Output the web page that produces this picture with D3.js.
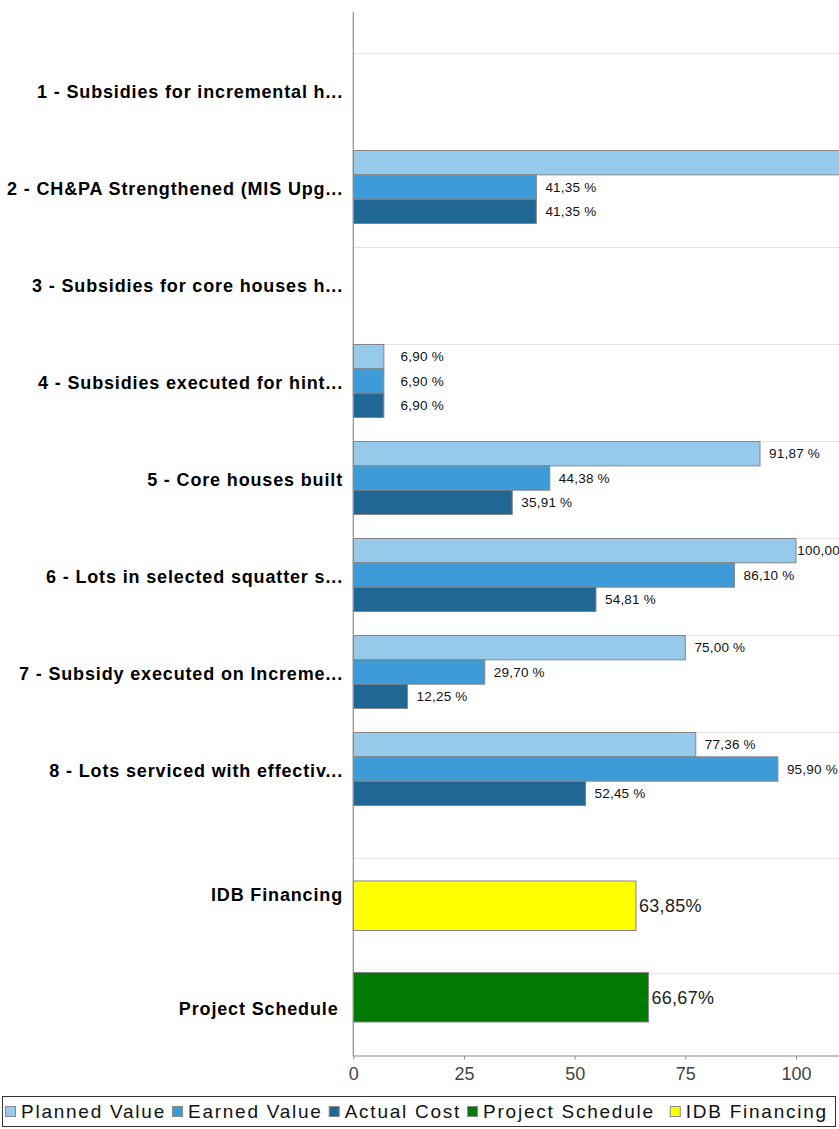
<!DOCTYPE html>
<html>
<head>
<meta charset="utf-8">
<script src="https://cdn.jsdelivr.net/npm/d3@7/dist/d3.min.js"></script>
<style>
  html, body { margin: 0; padding: 0; background: #fff; overflow: hidden; }
  svg { display: block; }
</style>
</head>
<body>
<svg id="chart" width="839" height="1129"></svg>
<script>
// ---------- DATA ----------
const categories = [
  "1 - Subsidies for incremental h...",
  "2 - CH&PA Strengthened (MIS Upg...",
  "3 - Subsidies for core houses h...",
  "4 - Subsidies executed for hint...",
  "5 - Core houses built",
  "6 - Lots in selected squatter s...",
  "7 - Subsidy executed on Increme...",
  "8 - Lots serviced with effectiv..."
];
const seriesNames = ["Planned Value", "Earned Value", "Actual Cost"];
const plannedValue = [null, 120.00, null, 6.90, 91.87, 100.00, 75.00, 77.36];
const earnedValue  = [null, 41.35, null, 6.90, 44.38, 86.10, 29.70, 95.90];
const actualCost   = [null, 41.35, null, 6.90, 35.91, 54.81, 12.25, 52.45];

const summaryCategories = ["IDB Financing", "Project Schedule"];
const idbFinancing    = [63.85, null];
const projectSchedule = [null, 66.67];

const xTickValues = [0, 25, 50, 75, 100];

const legendItems = ["Planned Value", "Earned Value", "Actual Cost", "Project Schedule", "IDB Financing"];

// ---------- STYLE ----------
const colors = {
  "Planned Value": "#95caea",
  "Earned Value": "#3d9bd7",
  "Actual Cost": "#216796",
  "Project Schedule": "#007a00",
  "IDB Financing": "#ffff00"
};
const barStroke = "#858585";
const gridColor = "#e3e3e3";
const axisColor = "#8c8c8c";

const svg = d3.select("#chart");
const fmt = v => v.toFixed(2).replace(".", ",");

// ---------- SCALES ----------
const x = d3.scaleLinear().domain([0, 100]).range([353.3, 796]);

const yTop = d3.scaleBand().domain(categories).range([53, 829]).paddingInner(0).paddingOuter(0);
const ySeries = d3.scaleBand().domain(seriesNames).range([0.5, 73.5]);

const yBot = d3.scaleBand().domain(summaryCategories).range([858, 1087]);
const yBotBar = d3.scaleBand().domain(summaryCategories).range([881, 1022]).paddingInner(0.459).paddingOuter(0);

const axisTop = 12, axisBottom = 1056;

// ---------- GRIDLINES ----------
const grid = svg.append("g");
grid.selectAll("line.gt").data(categories).join("line")
  .attr("x1", x(0)).attr("x2", 839)
  .attr("y1", d => Math.round(yTop(d)) + 0.5).attr("y2", d => Math.round(yTop(d)) + 0.5)
  .attr("stroke", gridColor).attr("stroke-width", 1);
grid.selectAll("line.gb").data(summaryCategories).join("line")
  .attr("x1", x(0)).attr("x2", 839)
  .attr("y1", d => Math.round(yBot(d)) + 0.5).attr("y2", d => Math.round(yBot(d)) + 0.5)
  .attr("stroke", gridColor).attr("stroke-width", 1);

// ---------- TOP BARS ----------
const topRows = [];
seriesNames.forEach((s, si) => {
  const arr = [plannedValue, earnedValue, actualCost][si];
  categories.forEach((c, ci) => {
    if (arr[ci] !== null) topRows.push({ cat: c, series: s, value: arr[ci] });
  });
});

const barsTop = svg.append("g");
barsTop.selectAll("rect").data(topRows).join("rect")
  .attr("x", x(0))
  .attr("y", d => yTop(d.cat) + ySeries(d.series))
  .attr("width", d => x(d.value) - x(0))
  .attr("height", ySeries.bandwidth())
  .attr("fill", d => colors[d.series])
  .attr("stroke", barStroke).attr("stroke-width", 1);

// labels only for values whose label lies inside the visible area (as in the cropped reference)
barsTop.selectAll("text").data(topRows.filter(d => x(d.value) + 8 < 839)).join("text")
  .attr("x", d => x(d.value) + 60)
  .attr("y", d => yTop(d.cat) + ySeries(d.series) + ySeries.bandwidth() / 2 + 13.5 * 0.358)
  .attr("text-anchor", "end")
  .attr("font-family", "Liberation Sans, Arial, sans-serif")
  .attr("font-size", 13.5)
  .attr("letter-spacing", 0.2)
  .attr("fill", "#111")
  .text(d => fmt(d.value) + " %");

// ---------- BOTTOM BARS ----------
const botRows = [];
summaryCategories.forEach((c, ci) => {
  if (idbFinancing[ci] !== null) botRows.push({ cat: c, series: "IDB Financing", value: idbFinancing[ci] });
  if (projectSchedule[ci] !== null) botRows.push({ cat: c, series: "Project Schedule", value: projectSchedule[ci] });
});
const barsBot = svg.append("g");
barsBot.selectAll("rect").data(botRows).join("rect")
  .attr("x", x(0))
  .attr("y", d => yBotBar(d.cat))
  .attr("width", d => x(d.value) - x(0))
  .attr("height", yBotBar.bandwidth())
  .attr("fill", d => colors[d.series])
  .attr("stroke", barStroke).attr("stroke-width", 1);
barsBot.selectAll("text").data(botRows).join("text")
  .attr("x", d => x(d.value) + 3)
  .attr("y", d => yBotBar(d.cat) + yBotBar.bandwidth() / 2 + 18 * 0.358)
  .attr("font-family", "Liberation Sans, Arial, sans-serif")
  .attr("font-size", 18)
  .attr("letter-spacing", 0.3)
  .attr("fill", "#222")
  .text(d => fmt(d.value) + "%");

// ---------- CATEGORY LABELS ----------
const lab = svg.append("g")
  .attr("font-family", "Liberation Sans, Arial, sans-serif")
  .attr("font-weight", "bold")
  .attr("font-size", 18)
  .attr("letter-spacing", 0.85)
  .attr("fill", "#000")
  .attr("text-anchor", "end");
lab.selectAll("text.t").data(categories).join("text")
  .attr("x", 343)
  .attr("y", d => yTop(d) + 38.5 + 18 * 0.358)
  .text(d => d);
lab.selectAll("text.b").data(summaryCategories).join("text")
  .attr("x", d => d === "Project Schedule" ? 338.5 : 343)
  .attr("y", d => yBot(d) + 36.5 + 18 * 0.358)
  .text(d => d);

// ---------- AXES ----------
svg.append("line")
  .attr("x1", x(0)).attr("x2", x(0))
  .attr("y1", axisTop).attr("y2", axisBottom)
  .attr("stroke", axisColor).attr("stroke-width", 1.2);

const xAxis = d3.axisBottom(x).tickValues(xTickValues).tickSize(3.5).tickSizeOuter(0).tickFormat(d3.format("d"));
const gx = svg.append("g").attr("transform", `translate(0,${axisBottom})`).call(xAxis);
gx.select(".domain").attr("stroke", axisColor).attr("stroke-width", 1.2).attr("d", `M${x(0)},0H839`);
gx.selectAll(".tick line").attr("stroke", axisColor);
gx.selectAll(".tick text")
  .attr("font-family", "Liberation Sans, Arial, sans-serif")
  .attr("font-size", 18)
  .attr("fill", "#444")
  .attr("dy", 0)
  .attr("y", 17.5 + 18 * 0.358);

// ---------- LEGEND ----------
const legend = svg.append("g");
legend.append("rect")
  .attr("x", 2.5).attr("y", 1096.5).attr("width", 833).attr("height", 30)
  .attr("fill", "#fff").attr("stroke", "#333").attr("stroke-width", 1);
const legFont = 19;
let cx = 5;
const legendG = legend.append("g");
legendItems.forEach((name, i) => {
  if (name === "IDB Financing") cx += 9;
  legendG.append("rect")
    .attr("x", cx + 0.5).attr("y", 1106.5).attr("width", 10).attr("height", 10)
    .attr("fill", colors[name]).attr("stroke", "#888").attr("stroke-width", 1);
  cx += 10 + 6;
  const t = legendG.append("text")
    .attr("x", cx).attr("y", 1111.5 + legFont * 0.358)
    .attr("font-family", "Liberation Sans, Arial, sans-serif")
    .attr("font-size", legFont)
    .attr("letter-spacing", 1.75)
    .attr("fill", "#111")
    .text(name);
  cx += t.node().getComputedTextLength() + 6;
});
</script>
</body>
</html>
